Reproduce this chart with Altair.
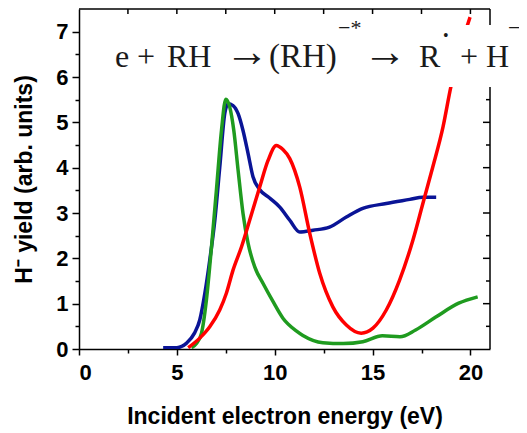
import altair as alt
import pandas as pd

# ---- data ----
blue_x = [4.3, 5.0, 5.5, 5.9, 6.17, 6.43, 6.68, 6.94, 7.19, 7.45, 7.62, 7.87, 8.13, 8.38,
          8.64, 8.89, 9.23, 9.74, 10.26, 10.77, 11.28, 11.96, 12.8, 13.66, 14.5, 15.7,
          16.9, 17.57, 18.25]
blue_y = [0.03, 0.03, 0.13, 0.35, 0.64, 1.23, 1.96, 2.84, 4.0, 5.2, 5.41, 5.37, 5.19, 4.82,
          4.31, 3.80, 3.52, 3.33, 3.13, 2.84, 2.58, 2.62, 2.69, 2.91, 3.10, 3.21,
          3.30, 3.35, 3.35]

green_x = [5.75, 6.0, 6.26, 6.51, 6.77, 7.02, 7.28, 7.5, 7.7, 7.91, 8.13, 8.38, 8.64, 8.98,
           9.4, 9.91, 10.42, 11.1, 11.44, 12.46, 13.5, 14.5, 15.5, 16.4, 17.2, 18.25,
           19.4, 20.37]
green_y = [0.03, 0.12, 0.35, 1.08, 2.25, 3.5, 4.82, 5.51, 5.34, 4.82, 3.94, 2.99, 2.33, 1.81,
           1.45, 1.05, 0.68, 0.40, 0.30, 0.14, 0.12, 0.16, 0.29, 0.27, 0.42, 0.71,
           1.01, 1.15]

red_x = [5.58, 6.17, 6.68, 7.19, 7.53, 7.87, 8.3, 8.72, 9.23, 9.66, 10.08, 10.42, 10.77,
         11.28, 11.79, 12.3, 12.97, 13.66, 14.42, 15.02, 15.7, 16.38, 17.06, 17.57, 18.08,
         18.6, 19.0, 19.5, 19.98]
red_y = [0.03, 0.24, 0.49, 0.86, 1.23, 1.74, 2.25, 2.84, 3.57, 4.16, 4.49, 4.40, 4.20,
         3.57, 2.55, 1.67, 0.93, 0.53, 0.35, 0.46, 0.86, 1.52, 2.40, 3.21, 4.02,
         4.90, 5.78, 6.65, 7.32]

series_names = ["blue", "green", "red"]
series_colors = ["#0a1496", "#1f9b1f", "#ff0000"]

x_ticks = [0, 2.5, 5, 7.5, 10, 12.5, 15, 17.5, 20]
y_ticks = [0, 0.5, 1, 1.5, 2, 2.5, 3, 3.5, 4, 4.5, 5, 5.5, 6, 6.5, 7]
top_ticks = [2.5, 5, 7.5, 10, 12.5, 15, 17.5, 20]
right_major = [1, 2, 3, 4, 5, 6, 7]
right_minor = [0.5, 1.5, 2.5, 3.5, 4.5, 5.5, 6.5]

x_title = "Incident electron energy (eV)"
y_title = "H\u207b yield (arb. units)"

# annotation pieces: text, x offset, baseline offset, font size
equation = [
    ("e", 36, 58, 32), ("+", 58, 58, 32), ("RH", 88, 58, 32), ("\u2192", 146, 57, 44),
    ("(RH)", 190, 58, 33), ("\u2212*", 259, 26, 22), ("\u2192", 284, 57, 44),
    ("R", 340, 58, 32), ("\u2022", 364, 32, 16), ("+", 381, 58, 32), ("H", 407, 58, 32),
    ("\u2212", 429, 26, 22),
]

# ---- build ----
frames = []
for name, xs, ys in [("blue", blue_x, blue_y), ("green", green_x, green_y), ("red", red_x, red_y)]:
    frames.append(pd.DataFrame({"energy": xs, "yield": ys, "series": name}))
df = pd.concat(frames, ignore_index=True)

W, H = 411, 340
xscale = alt.Scale(domain=[0, 21], nice=False, zero=False)
yscale = alt.Scale(domain=[0, 7.5], nice=False)

x_axis = alt.Axis(
    values=x_ticks, title=x_title,
    labelExpr="datum.value % 5 === 0 ? format(datum.value, 'd') : ''",
    tickSize={"condition": {"test": "datum.value % 5 === 0", "value": 6}, "value": 4},
    labelPadding=7, titlePadding=22)
y_axis = alt.Axis(
    values=y_ticks, title=y_title,
    labelExpr="datum.value % 1 === 0 ? format(datum.value, 'd') : ''",
    tickSize={"condition": {"test": "datum.value % 1 === 0", "value": 7}, "value": 4},
    labelPadding=4, titlePadding=19)

lines = alt.Chart(df).mark_line(strokeWidth=3.5, interpolate="monotone", clip=True).encode(
    x=alt.X("energy:Q", scale=xscale, axis=x_axis, title=x_title),
    y=alt.Y("yield:Q", scale=yscale, axis=y_axis, title=y_title),
    color=alt.Color("series:N", scale=alt.Scale(domain=series_names, range=series_colors), legend=None),
    detail="series:N",
)

one = alt.Data(values=[{"a": 1}])

frame_top = alt.Chart(one).mark_rule(color="black", strokeWidth=1.5).encode(
    x=alt.value(0), x2=alt.value(W), y=alt.value(0))
frame_right = alt.Chart(one).mark_rule(color="black", strokeWidth=1.5).encode(
    x=alt.value(W), y=alt.value(0), y2=alt.value(H))

top_tick_layer = alt.Chart(pd.DataFrame({"energy": top_ticks})).mark_rule(color="black", strokeWidth=1.5).encode(
    x=alt.X("energy:Q", scale=xscale, axis=x_axis, title=x_title), y=alt.value(0), y2=alt.value(5))
right_major_layer = alt.Chart(pd.DataFrame({"yield": right_major})).mark_rule(color="black", strokeWidth=1.5).encode(
    y=alt.Y("yield:Q", scale=yscale, axis=y_axis, title=y_title), x=alt.value(W - 7), x2=alt.value(W))
right_minor_layer = alt.Chart(pd.DataFrame({"yield": right_minor})).mark_rule(color="black", strokeWidth=1.5).encode(
    y=alt.Y("yield:Q", scale=yscale, axis=y_axis, title=y_title), x=alt.value(W - 4), x2=alt.value(W))

box = alt.Chart(one).mark_rect(fill="white").encode(
    x=alt.value(16), x2=alt.value(470), y=alt.value(16), y2=alt.value(78))

texts = []
for txt, px, py, size in equation:
    texts.append(alt.Chart(one).mark_text(
        text=txt, font="Liberation Serif", fontSize=size, align="left",
        baseline="alphabetic", color="#1a1a1a").encode(x=alt.value(px), y=alt.value(py)))

chart = alt.layer(
    lines, top_tick_layer, right_major_layer, right_minor_layer, frame_top, frame_right,
    box, *texts
).properties(
    width=W, height=H,
    padding={"left": 71, "top": 1, "right": 29, "bottom": 80},
    autosize=alt.AutoSizeParams(type="none"),
).configure_view(strokeWidth=0).configure_axis(
    grid=False, domainColor="black", domainWidth=1.5, tickColor="black", tickWidth=1.5,
    labelFont="Liberation Sans", labelFontWeight="bold", labelFontSize=22, labelColor="black",
    titleFont="Liberation Sans", titleFontWeight="bold", titleFontSize=23, titleColor="black",
)

chart.save("out.html", embed_options={"renderer": "svg", "actions": False})
